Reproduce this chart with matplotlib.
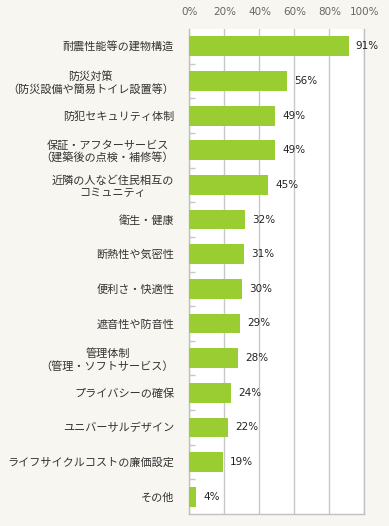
import numpy as np
import matplotlib
matplotlib.use('Agg')
import matplotlib.pyplot as plt

plt.rcParams['font.family'] = ['Noto Sans CJK JP', 'DejaVu Sans']

# ── データ ─────────────────────────────────
categories = [
    '耐震性能等の建物構造',
    '防災対策\n（防災設備や簡易トイレ設置等）',
    '防犯セキュリティ体制',
    '保証・アフターサービス\n（建築後の点検・補修等）',
    '近隣の人など住民相互の\nコミュニティ',
    '衛生・健康',
    '断熱性や気密性',
    '便利さ・快適性',
    '遮音性や防音性',
    '管理体制\n（管理・ソフトサービス）',
    'プライバシーの確保',
    'ユニバーサルデザイン',
    'ライフサイクルコストの廉価設定',
    'その他',
]
values = [91, 56, 49, 49, 45, 32, 31, 30, 29, 28, 24, 22, 19, 4]
xticks = [0, 20, 40, 60, 80, 100]

# ── 図 ─────────────────────────────────────
fig = plt.figure(figsize=(3.89, 5.26), dpi=100)
fig.patch.set_facecolor('#f7f6f0')
ax = fig.add_axes([0.487, 0.0228, 0.450, 0.922])
ax.set_facecolor('white')

y = np.arange(len(categories))
ax.barh(y, values, height=0.57, color='#9acd32', zorder=3)

for yi, v in zip(y, values):
    ax.text(v + 4, yi, f'{v}%', va='center', ha='left', fontsize=7.5,
            color='#222222', family=['DejaVu Sans'], zorder=4)

ax.set_xlim(0, 100)
ax.set_ylim(len(categories) - 0.5, -0.5)

ax.xaxis.tick_top()
ax.set_xticks(xticks)
ax.set_xticklabels([f'{t}%' for t in xticks], family=['DejaVu Sans'])
ax.tick_params(axis='x', length=0, pad=8.5, labelsize=7.5, labelcolor='#666666')
ax.grid(axis='x', color='#c8c8c8', linewidth=1, zorder=0)

ax.set_yticks(y)
ax.set_yticklabels(categories, fontsize=8, color='#333333', multialignment='center')
ax.tick_params(axis='y', which='major', length=0, pad=11)
ax.set_yticks(np.arange(len(categories) - 1) + 0.5, minor=True)
ax.tick_params(axis='y', which='minor', direction='in', length=4,
               color='#c8c8c8', width=1)

ax.spines['top'].set_visible(False)
for s in ['left', 'bottom', 'right']:
    ax.spines[s].set_color('#c0c0c0')
    ax.spines[s].set_linewidth(1)

plt.savefig('out.png', dpi=100, facecolor=fig.get_facecolor())
